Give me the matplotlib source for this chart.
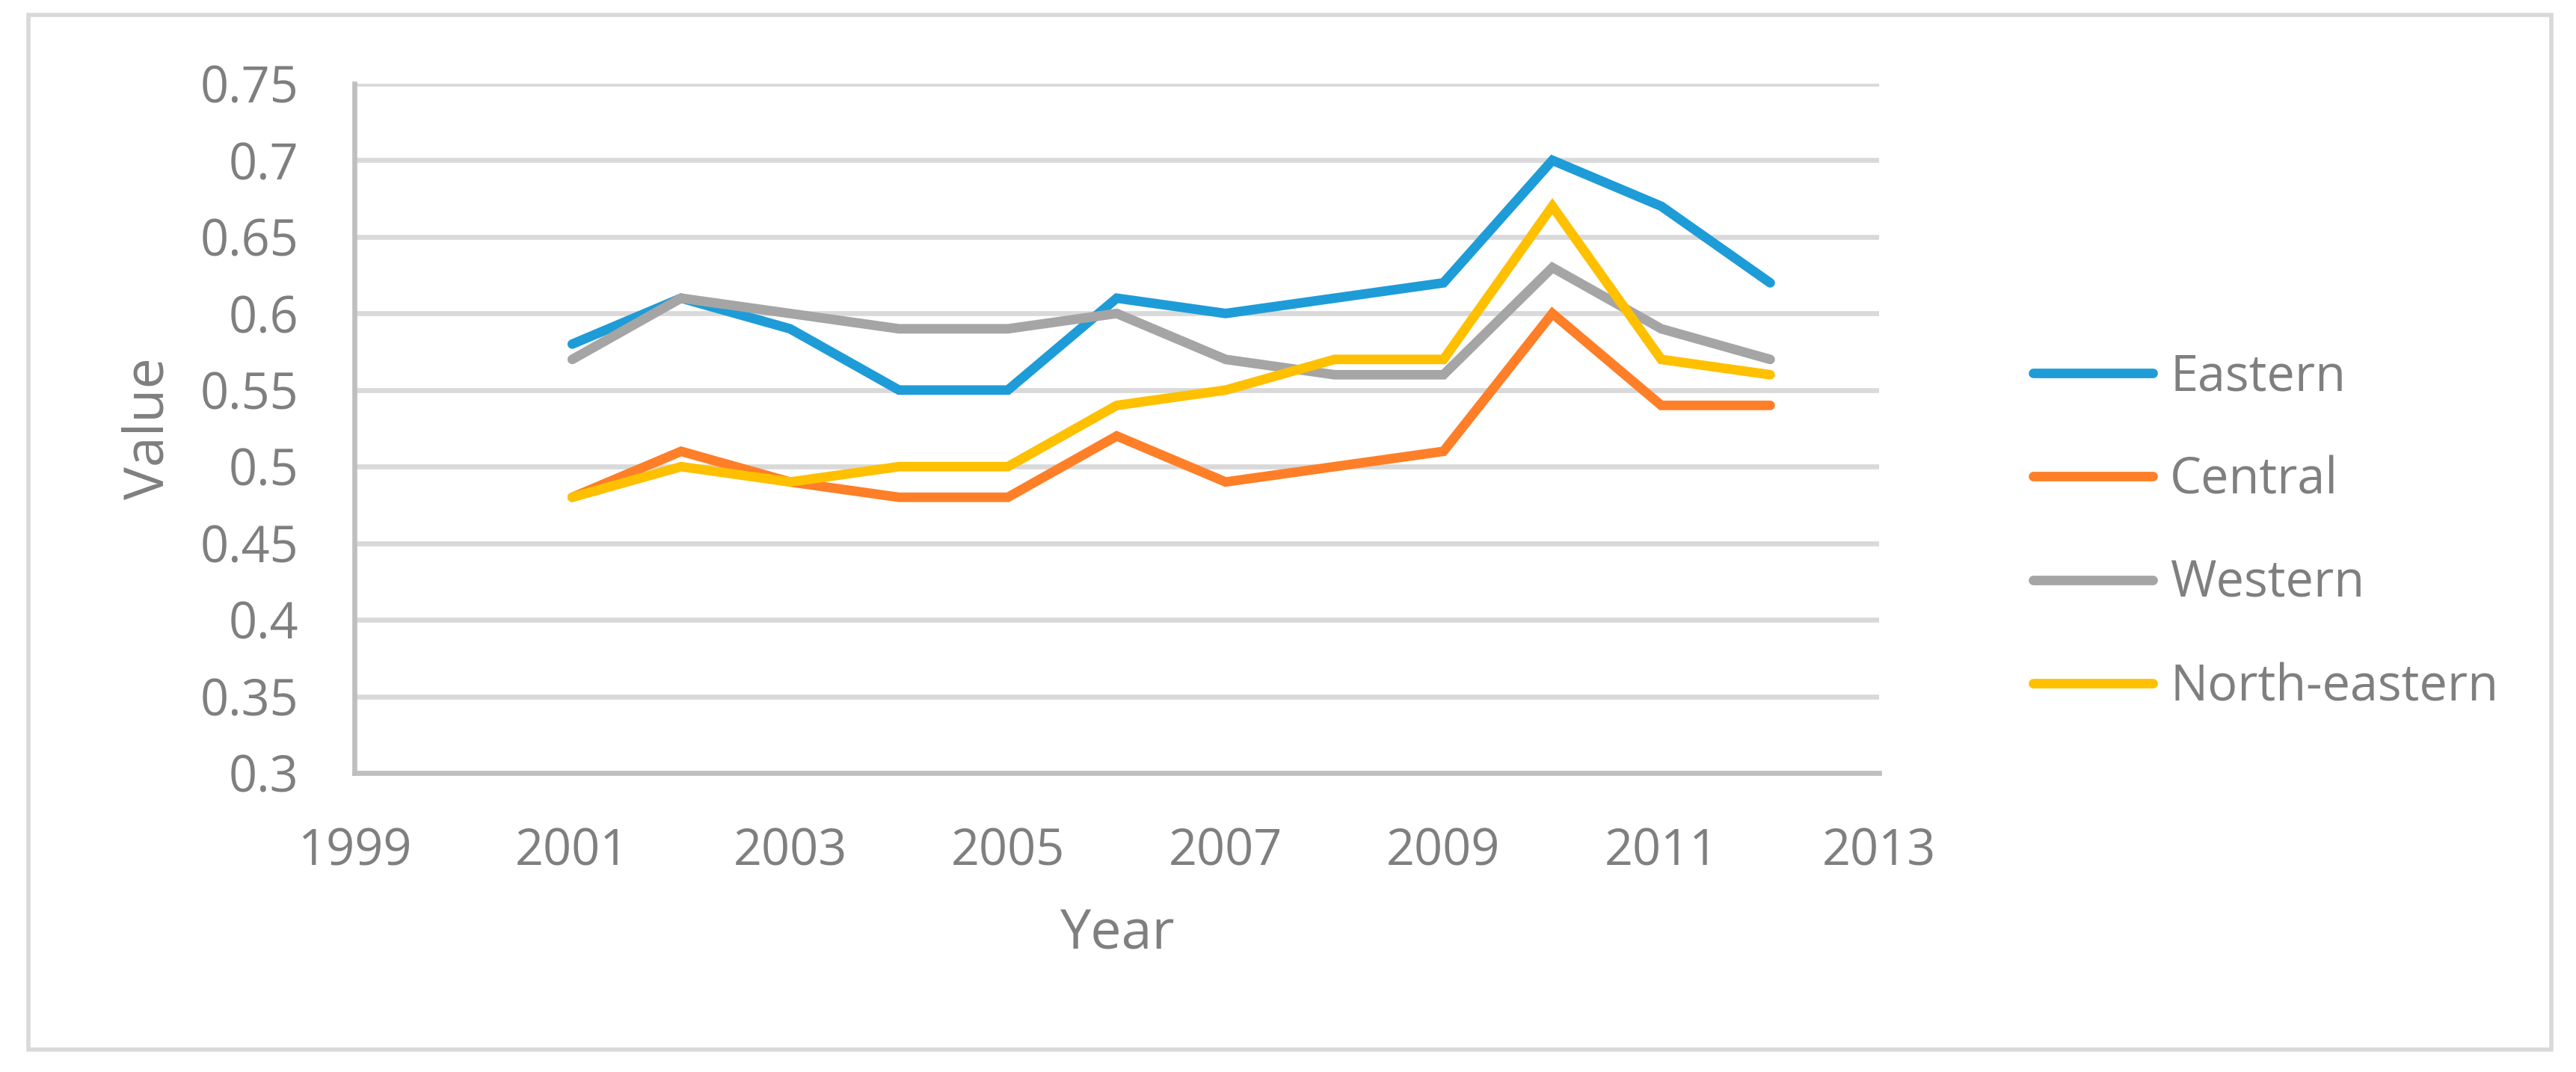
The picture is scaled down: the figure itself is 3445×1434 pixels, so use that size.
import matplotlib
matplotlib.use("Agg")
import matplotlib.pyplot as plt
from matplotlib.patches import Rectangle

years = [2001, 2002, 2003, 2004, 2005, 2006, 2007, 2008, 2009, 2010, 2011, 2012]
eastern = [0.58, 0.61, 0.59, 0.55, 0.55, 0.61, 0.60, 0.61, 0.62, 0.70, 0.67, 0.62]
central = [0.48, 0.51, 0.49, 0.48, 0.48, 0.52, 0.49, 0.50, 0.51, 0.60, 0.54, 0.54]
western = [0.57, 0.61, 0.60, 0.59, 0.59, 0.60, 0.57, 0.56, 0.56, 0.63, 0.59, 0.57]
north_eastern = [0.48, 0.50, 0.49, 0.50, 0.50, 0.54, 0.55, 0.57, 0.57, 0.67, 0.57, 0.56]

series_names = ["Eastern", "Central", "Western", "North-eastern"]
series_colors = ["#1E9CD8", "#FE7F27", "#A5A5A5", "#FFC000"]

x_ticks = [1999, 2001, 2003, 2005, 2007, 2009, 2011, 2013]
y_ticks = [0.3, 0.35, 0.4, 0.45, 0.5, 0.55, 0.6, 0.65, 0.7, 0.75]
y_tick_labels = ["0.3", "0.35", "0.4", "0.45", "0.5", "0.55", "0.6", "0.65", "0.7", "0.75"]

plt.rcParams["font.family"] = ["Open Sans", "DejaVu Sans"]
text_color = "#7F7F7F"

W, H = 3445, 1434
fig = plt.figure(figsize=(W / 200, H / 200), dpi=200)
ax = fig.add_axes([474 / W, 1 - 1034 / H, (2513 - 474) / W, (1034 - 112) / H])

for vals, name, col in zip([eastern, central, western, north_eastern], series_names, series_colors):
    ax.plot(years, vals, color=col, lw=4.6, label=name,
            solid_capstyle="round", solid_joinstyle="miter", zorder=3)

ax.set_xlim(1999, 2013)
ax.set_ylim(0.3, 0.75)
ax.set_xticks(x_ticks)
ax.set_yticks(y_ticks)
ax.set_yticklabels(y_tick_labels)
ax.tick_params(length=0, labelsize=24, colors=text_color)
ax.tick_params(axis="x", pad=26)
ax.tick_params(axis="y", pad=27)

ax.grid(axis="y", color="#D9D9D9", lw=2.4, zorder=0)
ax.set_axisbelow(True)
for s in ["top", "right"]:
    ax.spines[s].set_visible(False)
for s in ["left", "bottom"]:
    ax.spines[s].set_color("#BFBFBF")
    ax.spines[s].set_linewidth(2.4)

ax.set_xlabel("Year", fontsize=26.5, color=text_color, va="center")
ax.xaxis.set_label_coords(0.5, (1034 - 1250) / 922)
ax.set_ylabel("Value", fontsize=26.5, color=text_color, va="center")
ax.yaxis.set_label_coords((199 - 474) / 2039, 0.5)

leg = fig.legend(loc="center left", bbox_to_anchor=(2719 / W, 1 - 712 / H),
                 frameon=False, fontsize=24, handlelength=2.4, handletextpad=0.35,
                 labelspacing=1.06, borderpad=0, borderaxespad=0)
for t in leg.get_texts():
    t.set_color(text_color)
for h in leg.get_lines():
    h.set_solid_capstyle("round")

# outer chart border
fig.patches.append(Rectangle((38 / W, 1 - 1404 / H), (3412 - 38) / W, (1404 - 20) / H,
                             transform=fig.transFigure, fill=False,
                             edgecolor="#D9D9D9", lw=2))

fig.savefig("out.png", dpi=200)
